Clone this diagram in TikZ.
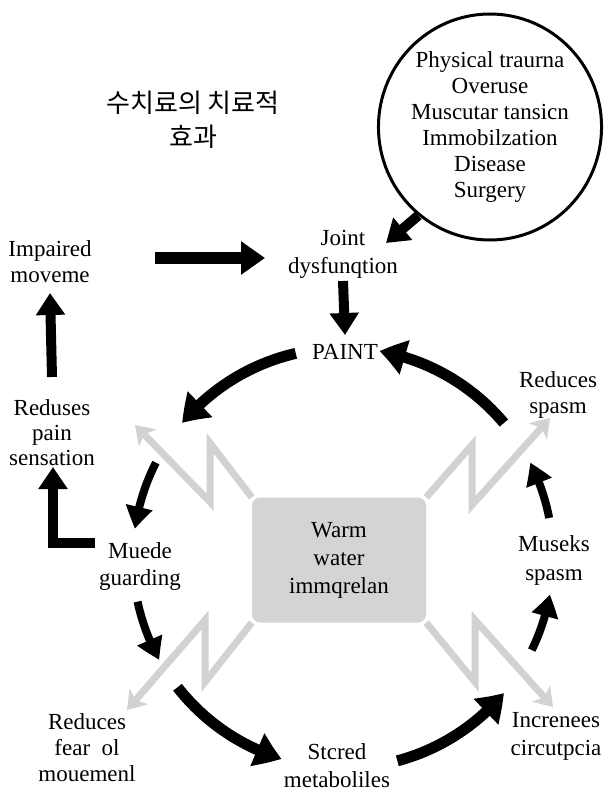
\documentclass[tikz,border=0pt]{standalone}
\usepackage{fontspec}
\setmainfont{Liberation Serif}
\newfontfamily\krfont{Noto Sans CJK KR}
\usetikzlibrary{arrows.meta,bending,shapes.geometric,backgrounds}
\definecolor{boxgray}{HTML}{D4D4D4}
\definecolor{arrgray}{HTML}{D2D2D2}
\begin{document}
\begin{tikzpicture}[x=1pt,y=-1pt,
  lbl/.style={align=center,inner sep=0pt,font=\fontsize{23}{27}\selectfont},
  ttl/.style={align=center,inner sep=0pt,font=\krfont\fontsize{26}{34}\selectfont},
  blk/.style={line width=10pt,-{Triangle[length=22pt,width=28pt]}},
  blkbig/.style={line width=12pt,-{Triangle[length=24pt,width=32pt]}},
  arcbig/.style={line width=11pt,-{Triangle[length=26pt,width=34pt,bend]}},
  arcsmall/.style={line width=8pt,-{Triangle[length=22pt,width=26pt,bend]}},
  gry/.style={draw=arrgray,line width=7pt,line join=miter,-{Stealth[length=18pt,width=24pt,inset=5pt]}}
]
\useasboundingbox (0,0) rectangle (608,792);

% nodes
\node[ttl] (title) at (193,120) {수치료의 치료적\\효과};
\node[ellipse,draw,line width=3pt,minimum width=220pt,minimum height=226pt,lbl,font=\fontsize{23}{26}\selectfont] (causes) at (490,127)
  {Physical traurna\\Overuse\\Muscutar tansicn\\Immobilzation\\Disease\\Surgery};
\node[lbl,font=\fontsize{23}{28}\selectfont] (joint) at (343,254) {Joint\\dysfunqtion};
\node[lbl,font=\fontsize{23}{26}\selectfont] (impaired) at (50,262) {Impaired\\moveme};
\node[lbl] (paint) at (345,352) {PAINT};
\node[lbl,font=\fontsize{23}{26}\selectfont] (redspasm) at (558,395) {Reduces\\spasm};
\node[lbl,font=\fontsize{23}{25}\selectfont] (redpain) at (52,433) {Reduses\\pain\\sensation};
\node[lbl] (muede) at (140,566) {Muede\\guarding};
\node[lbl,fill=boxgray,rounded corners=8pt,minimum width=174pt,minimum height=125pt,font=\fontsize{23}{28}\selectfont] (warm) at (339,560) {Warm\\water\\immqrelan};
\node[lbl,font=\fontsize{23}{29}\selectfont] (museks) at (554,560) {Museks\\spasm};
\node[lbl,font=\fontsize{23}{28}\selectfont] (incr) at (556,736) {Increnees\\circutpcia};
\node[lbl,font=\fontsize{23}{28}\selectfont] (stcred) at (337,766) {Stcred\\metaboliles};
\node[lbl,font=\fontsize{23}{26}\selectfont] (fear) at (87,748) {Reduces\\fear\enspace ol\\mouemenl};

% white page and gray lightning arrows from the box, behind the nodes
\begin{scope}[on background layer]
\fill[white] (0,0) rectangle (608,792);
\draw[gry] (warm.north west) -- (210,443) -- (210,502) -- (135,425);
\draw[gry] (warm.north east) -- (472,445) -- (472,505) -- (550,418);
\draw[gry] (warm.south west) -- (205,682) -- (205,620) -- (127,710);
\draw[gry] (warm.south east) -- (475,682) -- (475,620) -- (553,707);
\end{scope}

% straight black arrows
\coordinate (impEnd) at (155,258);
\coordinate (jointIn) at (265,258);
\coordinate (jointTip) at (386,243);
\draw[blkbig] (impEnd) -- (jointIn);
\draw[blk] (causes.231) -- (jointTip);
\draw[blk] (joint.south |- 0,281) -- (paint.north |- 0,335);
\draw[blk] (redpain.north |- 0,377) -- (impaired.south |- 0,293);
\coordinate (lStart) at (95,543);
\coordinate (lCorner) at (53,543);
\coordinate (lTip) at (53,467);
\draw[blk,line join=miter] (lStart) -- (lCorner) -- (lTip);

% cycle arcs around the box
\coordinate (C) at (343,558);
\draw[arcbig] ([shift={(-103:210)}]C) arc[start angle=-103,end angle=-140,radius=210];
\draw[arcbig] ([shift={(-40:210)}]C) arc[start angle=-40,end angle=-80,radius=210];
\draw[arcsmall] ([shift={(-153:210)}]C) arc[start angle=-153,end angle=-172,radius=210];
\draw[arcsmall] ([shift={(168:210)}]C) arc[start angle=168,end angle=151,radius=210];
\draw[arcbig] ([shift={(142:210)}]C) arc[start angle=142,end angle=107,radius=210];
\draw[arcbig] ([shift={(75:210)}]C) arc[start angle=75,end angle=40,radius=210];
\draw[arcsmall] ([shift={(26:210)}]C) arc[start angle=26,end angle=10,radius=210];
\draw[arcsmall] ([shift={(-11:210)}]C) arc[start angle=-11,end angle=-27,radius=210];
\end{tikzpicture}
\end{document}
